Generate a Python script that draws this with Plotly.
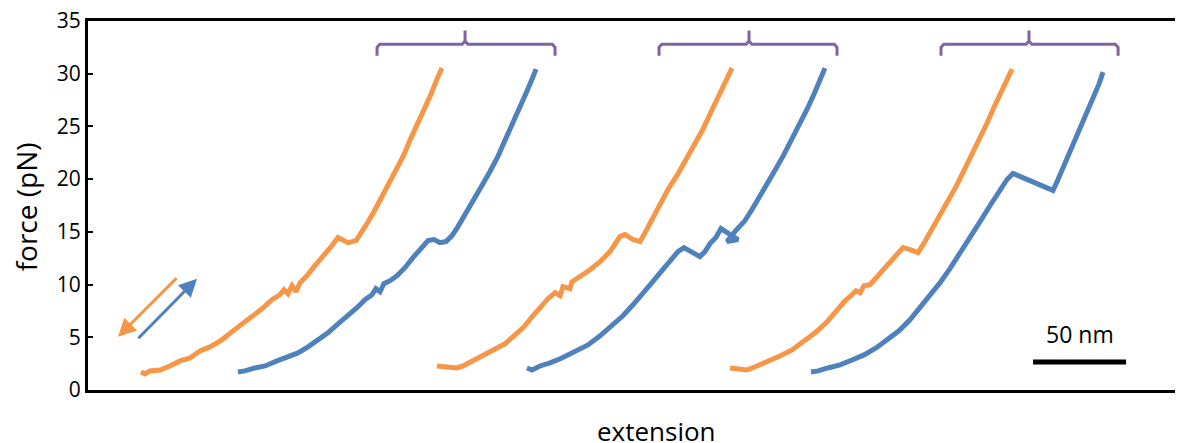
import plotly.graph_objects as go

# ---- data (extension in nm, force in pN) ----
o1_x = [28.5, 30.6, 33.3, 38.7, 44.1, 49.5, 54.8, 60.2, 65.6, 72.0, 78.0, 83.3, 88.2, 93.5, 98.9,
        103.2, 105.4, 107.5, 109.7, 111.8, 114.0, 117.7, 122.0, 126.3, 131.2, 134.4, 137.1, 139.8,
        144.1, 146.8, 150.0, 153.8, 157.5, 161.3, 165.6, 169.4, 173.1, 176.9, 180.6, 184.4, 187.6, 190.3]
o1_f = [1.71, 1.52, 1.81, 1.90, 2.28, 2.76, 3.04, 3.71, 4.09, 4.76, 5.61, 6.28, 6.94, 7.70, 8.56,
        9.04, 9.51, 9.13, 9.89, 9.32, 10.18, 10.84, 11.79, 12.65, 13.70, 14.46, 14.27, 13.98,
        14.17, 14.84, 15.79, 16.93, 18.17, 19.40, 20.83, 22.16, 23.68, 25.11, 26.54, 28.06, 29.48, 30.53]

b1_x = [80.6, 84.4, 89.8, 95.2, 101.6, 107.5, 112.9, 118.3, 123.7, 129.0, 134.4, 139.8, 144.6, 148.9,
        152.7, 154.8, 157.0, 159.1, 162.4, 166.1, 170.4, 174.7, 179.0, 182.8, 186.0, 189.2, 192.5,
        195.7, 198.9, 203.2, 207.5, 211.8, 216.1, 220.4, 224.2, 228.0, 231.7, 235.5, 238.7, 240.9]
b1_f = [1.71, 1.81, 2.09, 2.28, 2.76, 3.14, 3.52, 4.09, 4.76, 5.42, 6.28, 7.04, 7.80, 8.56,
        9.04, 9.61, 9.32, 10.08, 10.37, 10.84, 11.60, 12.55, 13.51, 14.17, 14.27, 13.98, 14.08,
        14.65, 15.50, 16.74, 18.07, 19.40, 20.73, 22.16, 23.68, 25.11, 26.63, 28.15, 29.48, 30.44]

o2_x = [187.6, 191.9, 198.4, 201.6, 206.5, 212.4, 218.8, 224.2, 229.6, 234.4, 239.2, 243.5, 247.3,
        251.1, 253.8, 255.4, 259.1, 260.2, 264.5, 269.9, 275.3, 280.6, 286.0, 288.7, 293.0, 296.8,
        299.5, 303.2, 307.5, 311.8, 316.7, 321.0, 325.8, 330.6, 334.9, 339.2, 343.0, 346.2]
o2_f = [2.28, 2.19, 2.09, 2.28, 2.76, 3.23, 3.90, 4.38, 5.23, 5.99, 7.04, 7.99, 8.66,
        9.23, 8.94, 9.80, 9.61, 10.27, 10.75, 11.41, 12.17, 13.13, 14.55, 14.74, 14.27, 14.08,
        14.93, 16.17, 17.60, 19.02, 20.35, 21.69, 23.21, 24.73, 26.35, 27.87, 29.29, 30.53]

b2_x = [236.0, 238.7, 243.0, 248.4, 254.8, 261.8, 268.8, 275.3, 281.7, 287.6, 293.0, 298.4, 303.2,
        308.1, 312.9, 317.2, 320.4, 324.7, 329.0, 331.7, 334.4, 337.6, 340.3, 349.5, 343.5, 347.8,
        353.2, 357.0, 361.3, 365.6, 369.9, 374.2, 378.5, 382.8, 386.6, 390.3, 393.5, 396.2]
b2_f = [2.09, 1.90, 2.28, 2.57, 3.04, 3.61, 4.28, 5.14, 6.09, 7.04, 8.08, 9.13, 10.18,
        11.22, 12.17, 13.13, 13.51, 13.13, 12.65, 13.13, 13.89, 14.46, 15.31, 14.27, 14.08, 15.02,
        16.07, 17.12, 18.36, 19.69, 21.02, 22.35, 23.78, 25.30, 26.63, 28.06, 29.29, 30.53]

o3_x = [345.2, 348.9, 354.3, 359.7, 365.1, 372.0, 378.5, 384.4, 390.9, 397.3, 402.7, 407.0, 410.2,
        412.9, 415.1, 417.2, 420.4, 424.7, 429.6, 433.9, 438.2, 442.0, 446.2, 450.0, 453.8, 458.1,
        462.4, 466.7, 471.0, 475.3, 479.6, 483.3, 487.1, 490.9, 494.1, 496.8]
o3_f = [2.09, 2.00, 1.90, 2.28, 2.66, 3.23, 3.80, 4.57, 5.42, 6.47, 7.61, 8.46, 8.94,
        9.42, 9.23, 9.89, 9.99, 10.84, 11.70, 12.65, 13.51, 13.32, 13.03, 14.08, 15.22, 16.55,
        17.88, 19.31, 20.83, 22.35, 23.87, 25.30, 26.82, 28.34, 29.58, 30.44]

b3_x = [388.7, 392.5, 397.8, 404.3, 410.8, 417.2, 423.7, 430.1, 436.0, 441.9, 447.3, 452.7, 458.1,
        463.4, 468.8, 474.2, 479.6, 485.0, 490.3, 494.1, 497.3, 518.8, 521.5, 525.3, 529.0, 532.8,
        536.6, 540.3, 543.5, 545.7]
b3_f = [1.71, 1.81, 2.09, 2.38, 2.85, 3.33, 3.99, 4.76, 5.61, 6.66, 7.80, 8.94, 10.18,
        11.51, 12.94, 14.46, 15.98, 17.50, 19.02, 19.97, 20.54, 18.93, 19.97, 21.50, 23.02, 24.44,
        25.97, 27.58, 29.01, 30.15]

# brackets: left end, centre, right end (nm)
bracket_left = [155.4, 307.0, 458.6]
bracket_center = [202.7, 355.4, 505.9]
bracket_right = [251.1, 402.7, 553.8]
bracket_low, bracket_mid, bracket_top = 31.7, 32.8, 34.1

yticks = [0, 5, 10, 15, 20, 25, 30, 35]
scale_bar_nm = 50

ORANGE = "#F79646"
BLUE = "#4F81BD"
PURPLE = "#8064A2"
FONT = "Open Sans"

fig = go.Figure()
for xs, fs, c in [(o1_x, o1_f, ORANGE), (b1_x, b1_f, BLUE), (o2_x, o2_f, ORANGE),
                  (b2_x, b2_f, BLUE), (o3_x, o3_f, ORANGE), (b3_x, b3_f, BLUE)]:
    fig.add_trace(go.Scatter(x=xs, y=fs, mode="lines", line=dict(color=c, width=5),
                             showlegend=False, hoverinfo="skip"))

for L, C, R in zip(bracket_left, bracket_center, bracket_right):
    bx = [L, L, L + 1.5, C - 1.5, C, C, C, C + 1.5, R - 1.5, R, R]
    by = [bracket_low, bracket_mid - 0.3, bracket_mid, bracket_mid, bracket_mid + 0.3, bracket_top,
          bracket_mid + 0.3, bracket_mid, bracket_mid, bracket_mid - 0.3, bracket_low]
    fig.add_trace(go.Scatter(x=bx, y=by, mode="lines", line=dict(color=PURPLE, width=3),
                             showlegend=False, hoverinfo="skip"))

# scale bar
sb_x0 = 508.1
fig.add_shape(type="line", x0=sb_x0, x1=sb_x0 + scale_bar_nm, y0=2.66, y1=2.66,
              line=dict(color="black", width=5))

annotations = [
    dict(x=sb_x0 + scale_bar_nm / 2, y=5.3, text="50 nm", showarrow=False,
         font=dict(family=FONT, size=23, color="black")),
    # direction arrows
    dict(x=16.1, y=5.04, ax=48.4, ay=10.75, xref="x", yref="y", axref="x", ayref="y",
         showarrow=True, arrowhead=2, arrowsize=1.2, arrowwidth=3, arrowcolor=ORANGE, text=""),
    dict(x=58.6, y=10.56, ax=26.3, ay=4.76, xref="x", yref="y", axref="x", ayref="y",
         showarrow=True, arrowhead=2, arrowsize=1.2, arrowwidth=3, arrowcolor=BLUE, text=""),
    dict(x=305.4, xref="x", xanchor="center", y=0, yref="paper", yanchor="top", yshift=-21,
         text="extension", showarrow=False, font=dict(family=FONT, size=26, color="black")),
    dict(x=0, xref="paper", xanchor="center", xshift=-62, y=0.495, yref="paper", yanchor="middle",
         text="force (pN)", textangle=-90, showarrow=False,
         font=dict(family=FONT, size=28, color="black")),
]
fig.update_layout(annotations=annotations)

# the page body adds an 8 px offset; the figure is sized so the axes land where the reference has them
fig.update_layout(
    width=1175, height=443,
    margin=dict(l=80, r=0, t=13, b=61),
    paper_bgcolor="white", plot_bgcolor="white",
    font=dict(family=FONT, size=20, color="black"),
    xaxis=dict(range=[0, 588.7], showline=True, linewidth=3, linecolor="black", mirror=True,
               showticklabels=False, ticks="", showgrid=False, zeroline=False, automargin=False),
    yaxis=dict(range=[0, 35], tickvals=yticks, showline=True, linewidth=3, linecolor="black",
               ticks="inside", ticklen=5, tickwidth=2, tickcolor="black", showgrid=False,
               zeroline=False, tickfont=dict(family=FONT, size=21), automargin=False,
               ticklabeloverflow="allow"),
)

fig.write_html("out.html")
